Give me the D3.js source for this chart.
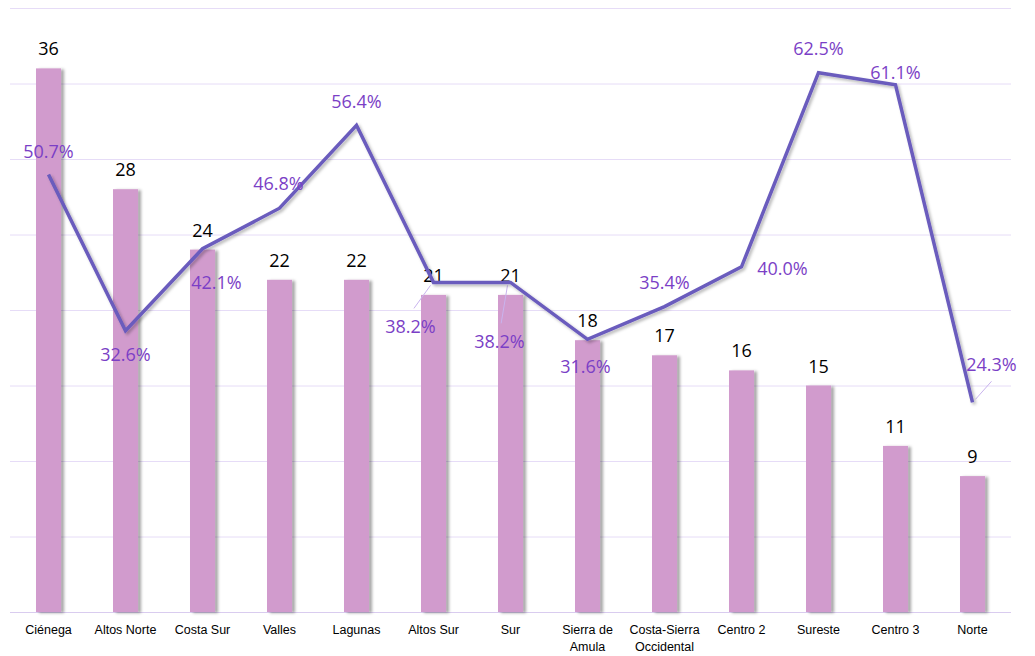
<!DOCTYPE html>
<html>
<head>
<meta charset="utf-8">
<script src="https://cdn.jsdelivr.net/npm/d3@7"></script>
<style>
  body { margin: 0; background: #fff; }
  svg { display: block; }
</style>
</head>
<body>
<script>
// chart data
var regions = ["Ciénega", "Altos Norte", "Costa Sur", "Valles", "Lagunas", "Altos Sur", "Sur",
  "Sierra de Amula", "Costa-Sierra Occidental", "Centro 2", "Sureste", "Centro 3", "Norte"];
var counts = [36, 28, 24, 22, 22, 21, 21, 18, 17, 16, 15, 11, 9];
var shares = [50.7, 32.6, 42.1, 46.8, 56.4, 38.2, 38.2, 31.6, 35.4, 40.0, 62.5, 61.1, 24.3];
var countTicks = [0, 5, 10, 15, 20, 25, 30, 35, 40];

// label nudges for the percent labels (dx, dy from the point)
var shareNudge = [[0, -23], [0, 24], [14, 34], [-1, -24], [0, -24], [-23, 44], [-11, 59],
  [-2, 27], [0, -24], [41, 2], [0, -24], [0, -12], [19, -38]];
var leaderLines = [5, 6, 12];

var width = 1035, height = 656;
var margin = {top: 8, right: 24, bottom: 44, left: 10};
var plotW = width - margin.left - margin.right;
var plotH = height - margin.top - margin.bottom;
var labelFont = "'Open Sans', 'Noto Sans', sans-serif";

var svg = d3.select("body").append("svg")
  .attr("width", width)
  .attr("height", height);

var defs = svg.append("defs");
var f1 = defs.append("filter").attr("id", "barShadow")
  .attr("x", "-20%").attr("y", "-5%").attr("width", "160%").attr("height", "110%");
f1.append("feDropShadow").attr("dx", 3).attr("dy", 1).attr("stdDeviation", 1.5)
  .attr("flood-color", "#000").attr("flood-opacity", 0.35);
var f2 = defs.append("filter").attr("id", "lineShadow")
  .attr("x", "-5%").attr("y", "-5%").attr("width", "110%").attr("height", "115%");
f2.append("feDropShadow").attr("dx", 2).attr("dy", 2).attr("stdDeviation", 1.8)
  .attr("flood-color", "#000").attr("flood-opacity", 0.28);

var g = svg.append("g")
  .attr("transform", "translate(" + margin.left + "," + margin.top + ")");

var x = d3.scaleBand().domain(regions).range([0, plotW]).paddingInner(0.675).paddingOuter(0.3375);
var y = d3.scaleLinear().domain([0, 40]).range([plotH, 0]);
var y2 = d3.scaleLinear().domain([0, 70]).range([plotH, 0]);

// gridlines
g.append("g").selectAll("line").data(countTicks).enter().append("line")
  .attr("x1", 0).attr("x2", plotW)
  .attr("y1", d => y(d) + 0.5).attr("y2", d => y(d) + 0.5)
  .attr("stroke", d => d === 0 ? "#d9ccef" : "#e6dcf7")
  .attr("stroke-width", 1);

// bars
g.append("g").selectAll("rect").data(counts).enter().append("rect")
  .attr("x", (d, i) => x(regions[i]))
  .attr("y", d => y(d))
  .attr("width", x.bandwidth())
  .attr("height", d => plotH - y(d))
  .attr("fill", "#d19bcd")
  .attr("filter", "url(#barShadow)");

// bar labels
g.append("g").selectAll("text").data(counts).enter().append("text")
  .attr("x", (d, i) => x(regions[i]) + x.bandwidth() / 2)
  .attr("y", d => y(d) - 13)
  .attr("text-anchor", "middle")
  .attr("font-family", labelFont)
  .attr("font-size", "18px")
  .attr("fill", "#000")
  .text(d => d);

// category axis
var xAxis = g.append("g")
  .attr("transform", "translate(0," + plotH + ")")
  .call(d3.axisBottom(x).tickSize(0).tickPadding(0));
xAxis.select(".domain").remove();
xAxis.selectAll("text").remove();
xAxis.selectAll(".tick").each(function (d) {
  var t = d3.select(this).append("text")
    .attr("text-anchor", "middle")
    .attr("font-family", "'Liberation Sans', Arial, sans-serif")
    .attr("font-size", "12.5px")
    .attr("fill", "#000");
  var parts = d === "Sierra de Amula" ? ["Sierra de", "Amula"]
    : d === "Costa-Sierra Occidental" ? ["Costa-Sierra", "Occidental"] : [d];
  parts.forEach((p, k) => {
    t.append("tspan").attr("x", 0).attr("y", 22 + k * 17).text(p);
  });
});

// leader lines
var cx = i => x(regions[i]) + x.bandwidth() / 2;
g.append("g").selectAll("line").data(leaderLines).enter().append("line")
  .attr("x1", i => cx(i) + (i === 12 ? 3 : -3))
  .attr("y1", i => y2(shares[i]) + (i === 12 ? -3 : 3))
  .attr("x2", i => cx(i) + shareNudge[i][0] * (i === 12 ? 1 : 0.85))
  .attr("y2", i => y2(shares[i]) + shareNudge[i][1] + (i === 12 ? 17 : -18))
  .attr("stroke", "#c9b4ee")
  .attr("stroke-width", 1);

// share line
var line = d3.line()
  .x((d, i) => cx(i))
  .y(d => y2(d));
g.append("path")
  .datum(shares)
  .attr("d", line)
  .attr("fill", "none")
  .attr("stroke", "#6a5bbd")
  .attr("stroke-width", 3.5)
  .attr("stroke-linejoin", "miter")
  .attr("filter", "url(#lineShadow)");

// share labels
g.append("g").selectAll("text").data(shares).enter().append("text")
  .attr("x", (d, i) => cx(i) + shareNudge[i][0])
  .attr("y", (d, i) => y2(d) + shareNudge[i][1])
  .attr("dy", "0.35em")
  .attr("text-anchor", "middle")
  .attr("font-family", labelFont)
  .attr("font-size", "18px")
  .attr("fill", "#7b3fc6")
  .text(d => d.toFixed(1) + "%");
</script>
</body>
</html>
